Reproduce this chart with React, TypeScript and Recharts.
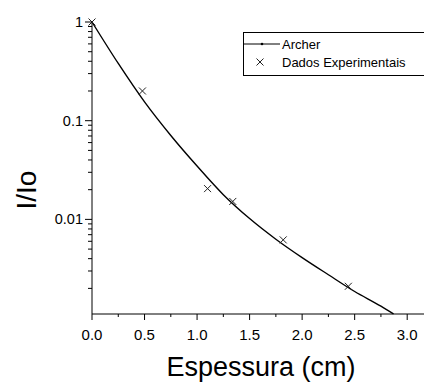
import React from "react";
import { ComposedChart, Line, Scatter, XAxis, YAxis } from "recharts";

// Archer model curve (thickness in cm, transmitted fraction)
const curveX = [0, 0.25, 0.5, 0.75, 1.0, 1.25, 1.5, 1.75, 2.0, 2.25, 2.5, 2.75, 2.87];
const curveY = [1, 0.38, 0.155, 0.0708, 0.0347, 0.0178, 0.0102, 0.0063, 0.0041, 0.00275, 0.00186, 0.00132, 0.0011];

// experimental measurements
const expX = [0, 0.48, 1.1, 1.34, 1.82, 2.44];
const expY = [1, 0.2, 0.0205, 0.0152, 0.0062, 0.0021];

const xTicks = [0, 0.25, 0.5, 0.75, 1.0, 1.25, 1.5, 1.75, 2.0, 2.25, 2.5, 2.75, 3.0];
const xLabels = [0, 0.5, 1.0, 1.5, 2.0, 2.5, 3.0];
const yTicks = [
  0.002, 0.003, 0.004, 0.005, 0.006, 0.007, 0.008, 0.009,
  0.01, 0.02, 0.03, 0.04, 0.05, 0.06, 0.07, 0.08, 0.09,
  0.1, 0.2, 0.3, 0.4, 0.5, 0.6, 0.7, 0.8, 0.9, 1,
];
const yLabels = [0.01, 0.1, 1];

const curveData = curveX.map((x, i) => ({ x, y: curveY[i] }));
const expData = expX.map((x, i) => ({ x, y: expY[i] }));

const font = "'Liberation Sans', Arial, sans-serif";

const XTick = ({ x, y, payload }: any) => {
  const major = xLabels.includes(payload.value);
  return (
    <g>
      <line x1={x} x2={x} y1={y} y2={y + (major ? 6 : 3)} stroke="#000" />
      {major && (
        <text x={x} y={y + 26} textAnchor="middle" fontSize={15} fontFamily={font} fill="#000">
          {payload.value.toFixed(1)}
        </text>
      )}
    </g>
  );
};

const YTick = ({ x, y, payload }: any) => {
  const major = yLabels.includes(payload.value);
  return (
    <g>
      <line x1={x} x2={x - (major ? 7 : 4)} y1={y} y2={y} stroke="#000" />
      {major && (
        <text x={x - 9} y={y} dy="0.35em" textAnchor="end" fontSize={14.5} fontFamily={font} fill="#000">
          {String(payload.value)}
        </text>
      )}
    </g>
  );
};

const Cross = ({ cx, cy }: any) => (
  <path
    d={`M${cx - 3.5},${cy - 3.5}L${cx + 3.5},${cy + 3.5}M${cx - 3.5},${cy + 3.5}L${cx + 3.5},${cy - 3.5}`}
    stroke="#222"
    strokeWidth={1}
    fill="none"
  />
);

const XTitle = ({ viewBox }: any) => (
  <text
    x={viewBox.x + viewBox.width / 2 + 3}
    y={viewBox.y + 62}
    textAnchor="middle"
    fontSize={27}
    fontFamily={font}
    fill="#000"
  >
    Espessura (cm)
  </text>
);

const YTitle = ({ viewBox }: any) => {
  const cx = 26;
  const cy = viewBox.y + viewBox.height / 2 + 22;
  return (
    <text
      x={cx}
      y={cy}
      transform={`rotate(-90 ${cx} ${cy})`}
      textAnchor="middle"
      dominantBaseline="central"
      fontSize={28}
      fontFamily={font}
      fill="#000"
    >
      I/Io
    </text>
  );
};

const LegendBox = () => (
  <div
    style={{
      position: "absolute",
      left: 243,
      top: 32,
      width: 190,
      height: 44,
      border: "1px solid #000",
      boxSizing: "border-box",
      background: "#fff",
    }}
  >
    <svg width={190} height={42} style={{ position: "absolute", left: 0, top: 0 }}>
      <line x1={0} x2={36} y1={11} y2={11} stroke="#000" />
      <circle cx={18} cy={11} r={1.3} fill="#000" />
      <Cross cx={16} cy={29} />
      <text x={38} y={11} dy="0.35em" fontSize={13} fontFamily={font} fill="#000">
        Archer
      </text>
      <text x={38} y={29} dy="0.35em" fontSize={13} fontFamily={font} fill="#000">
        Dados Experimentais
      </text>
    </svg>
  </div>
);

const App = () => {
  return (
    <div
      style={{
        position: "absolute",
        left: 0,
        top: 0,
        width: 424,
        height: 385,
        overflow: "hidden",
        background: "#fff",
      }}
    >
      <ComposedChart
        width={424}
        height={385}
        margin={{ top: 22, right: 0, left: 32, bottom: 31 }}
      >
        <XAxis
          type="number"
          dataKey="x"
          domain={[0, 3.16]}
          ticks={xTicks}
          interval={0}
          tickSize={0}
          tickMargin={0}
          tick={<XTick />}
          height={40}
          stroke="#000"
          label={<XTitle />}
        />
        <YAxis
          type="number"
          dataKey="y"
          scale="log"
          domain={[0.0011, 1]}
          ticks={yTicks}
          interval={0}
          tickSize={0}
          tickMargin={0}
          tick={<YTick />}
          width={60}
          stroke="#000"
          label={<YTitle />}
        />
        <Line
          data={curveData}
          dataKey="y"
          type="monotone"
          stroke="#000"
          strokeWidth={1.4}
          dot={false}
          activeDot={false}
          isAnimationActive={false}
        />
        <Scatter
          data={expData}
          dataKey="y"
          shape={<Cross />}
          isAnimationActive={false}
        />
      </ComposedChart>
      <LegendBox />
    </div>
  );
};

export default App;
